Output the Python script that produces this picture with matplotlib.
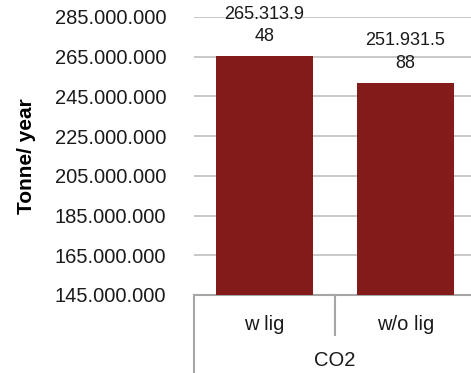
import numpy as np
import matplotlib.pyplot as plt

plt.rcParams['font.family'] = ['Liberation Sans', 'DejaVu Sans']

# data
groups = ['w lig', 'w/o lig']
category = 'CO2'
values = [265313948, 251931588]
label_texts = ['265.313.9\n48', '251.931.5\n88']
yticks = [145000000, 165000000, 185000000, 205000000,
          225000000, 245000000, 265000000, 285000000]

W, H = 471, 373
fig = plt.figure(figsize=(W / 100, H / 100), dpi=100)

# axes spans x 194..476 px (slightly cut at right), y 17..295 px
left, right = 194, 476
top, bottom = 17, 295
ax = fig.add_axes([left / W, 1 - bottom / H, (right - left) / W, (bottom - top) / H])

bar_color = '#841B1B'
x = np.arange(len(groups))
ax.bar(x, values, width=0.69, color=bar_color, zorder=3)

ax.set_xlim(-0.5, len(groups) - 0.5)
ax.set_ylim(yticks[0], yticks[-1])
ax.set_yticks(yticks)
ax.set_yticklabels([f'{v:,}'.replace(',', '.') for v in yticks], fontsize=14.5)
ax.tick_params(axis='y', length=0, pad=20, colors='#1a1a1a')
ax.set_xticks([])
ax.grid(axis='y', color='#BFBFBF', linewidth=1.2, zorder=0)
ax.set_axisbelow(True)

for s in ['top', 'right', 'left']:
    ax.spines[s].set_visible(False)
ax.spines['bottom'].set_color('#A6A6A6')
ax.spines['bottom'].set_linewidth(1.5)

# data labels
for xi, v, t in zip(x, values, label_texts):
    ax.annotate(t, (xi, v), xytext=(0, 8), textcoords='offset points',
                ha='center', va='bottom', fontsize=13, linespacing=1.4,
                color='#1a1a1a')

ax.set_ylabel('Tonne/ year', fontsize=15, fontweight='bold')
ax.yaxis.set_label_coords((36 - left) / (right - left), 0.5)

# category axis boxes below the plot
trans = ax.get_xaxis_transform()
line_kw = dict(color='#A6A6A6', linewidth=1.5, transform=trans, clip_on=False)
h_px = bottom - top
ax.plot([-0.5, -0.5], [0, -(373 - bottom) / h_px], **line_kw)
ax.plot([0.5, 0.5], [0, -40 / h_px], **line_kw)
for xi, g in zip(x, groups):
    ax.text(xi, -29 / h_px, g, transform=trans, ha='center', va='center',
            fontsize=14.5, color='#1a1a1a')
ax.text(0.5, -65 / h_px, category, transform=trans, ha='center', va='center',
        fontsize=14.5, color='#1a1a1a')

fig.savefig('out.png', dpi=100)
